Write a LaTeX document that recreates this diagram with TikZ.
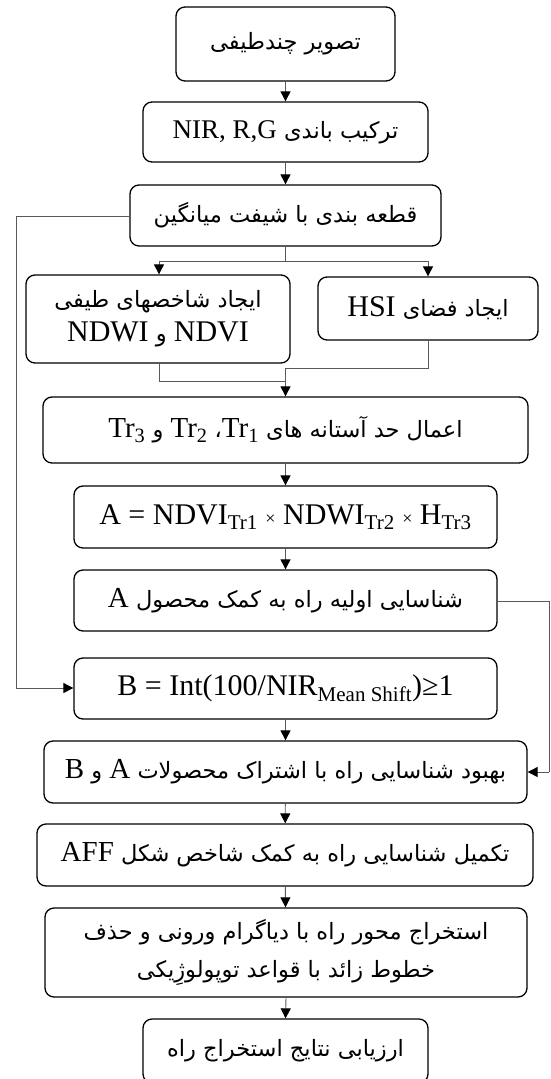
\documentclass[tikz,border=0pt]{standalone}
\usepackage{fontspec}
\setmainfont{Liberation Serif}
\newfontfamily\arfont[Script=Arabic]{DejaVu Sans}
\TeXXeTstate=1
\usetikzlibrary{arrows.meta}
\newcommand\pers[1]{{\arfont\fontsize{22.5}{28}\selectfont #1}}
\newcommand\lat[1]{\beginL #1\endL}
\newcommand\tms{{\fontsize{18}{18}\selectfont ×}}
\tikzset{
  box/.style={draw=black, line width=1.3pt, rounded corners=9pt, fill=white,
    inner sep=0pt, align=center, font=\fontsize{29}{36}\selectfont},
  conn/.style={draw=black!65, line width=0.9pt},
  arr/.style={conn, -{Triangle[length=10pt,width=10pt,fill=black,color=black]}}
}
\begin{document}
\begin{tikzpicture}[x=1pt,y=-1pt]
\useasboundingbox (0,0) rectangle (551,1079);
\node[box, minimum width=219pt, minimum height=74pt] (b1) at (285.5,44)
  {\beginR\pers{تصویر چندطیفی}\endR};
\node[box, minimum width=285pt, minimum height=60pt, font=\fontsize{27}{33}\selectfont] (b2) at (285.5,132)
  {\beginR\pers{ترکیب باندی }\lat{NIR, R,G}\endR};
\node[box, minimum width=311pt, minimum height=61pt] (b3) at (285.5,215.5)
  {\beginR\pers{قطعه بندی با شیفت میانگین}\endR};
\node[box, minimum width=264pt, minimum height=88pt, font=\fontsize{30}{36}\selectfont] (b4) at (158,319)
  {\beginR\pers{ایجاد شاخصهای طیفی}\endR\\[-2pt]
   \beginR\lat{NDVI}\pers{ و }\lat{NDWI}\endR};
\node[box, minimum width=220pt, minimum height=63pt, font=\fontsize{30}{36}\selectfont] (b5) at (428,308.5)
  {\beginR\pers{ایجاد فضای }\lat{HSI}\endR};
\node[box, minimum width=485pt, minimum height=66pt] (b6) at (285.5,430)
  {\beginR\pers{اعمال حد آستانه های }\lat{Tr\textsubscript{1}}\pers{، }\lat{Tr\textsubscript{2}}\pers{ و }\lat{Tr\textsubscript{3}}\endR};
\node[box, minimum width=423pt, minimum height=62pt, font=\fontsize{30}{36}\selectfont] (b7) at (285.5,517)
  {A = NDVI\textsubscript{Tr1} \tms{} NDWI\textsubscript{Tr2} \tms{} H\textsubscript{Tr3}};
\node[box, minimum width=423pt, minimum height=61pt] (b8) at (285.5,600.5)
  {\beginR\pers{شناسایی اولیه راه به کمک محصول }\lat{A}\endR};
\node[box, minimum width=423pt, minimum height=61pt, font=\fontsize{30}{36}\selectfont] (b9) at (285.5,688.5)
  {B = Int(100/NIR\textsubscript{Mean Shift})≥1};
\node[box, minimum width=483pt, minimum height=62pt] (b10) at (285.5,772)
  {\beginR\pers{بهبود شناسایی راه با اشتراک محصولات }\lat{A}\pers{ و }\lat{B}\endR};
\node[box, minimum width=496pt, minimum height=62pt] (b11) at (285,855)
  {\beginR\pers{تکمیل شناسایی راه به کمک شاخص شکل }\lat{AFF}\endR};
\node[box, minimum width=482pt, minimum height=89pt] (b12) at (286,952.5)
  {\beginR\pers{استخراج محور راه با دیاگرام ورونی و حذف}\endR\\[2pt]
   \beginR\pers{خطوط زائد با قواعد توپولوژِیکی}\endR};
\node[box, minimum width=285pt, minimum height=64pt] (b13) at (285.5,1051)
  {\beginR\pers{ارزیابی نتایج استخراج راه}\endR};
% split and merge points
\coordinate (s0) at (285.5,261);
\coordinate (sl) at (159,261);
\coordinate (sr) at (428,261);
\coordinate (ml) at (285.5,381);
\coordinate (mr) at (285.5,368);
\coordinate (fl) at (16,216);
\coordinate (fl2) at (16,688);
\coordinate (fr) at (549,601);
\coordinate (fr2) at (549,772);
% connectors
\draw[arr] (b1) -- (b2);
\draw[arr] (b2) -- (b3);
\draw[conn] (b3.south) -- (s0);
\draw[conn] (sl) -- (sr);
\draw[arr] (sl) -- (sl |- b4.north);
\draw[arr] (sr) -- (sr |- b5.north);
\draw[conn] (b4.south -| sl) |- (ml);
\draw[conn] (b5.south) |- (mr);
\draw[arr] (mr) -- (b6.north);
\draw[arr] (b6) -- (b7);
\draw[arr] (b7) -- (b8);
\draw[arr] (b9) -- (b10);
\draw[arr] (b10) -- (b11);
\draw[arr] (b11) -- (b12);
\draw[arr] (b12.south) -- (b13.north);
\draw[conn] (b3.west |- fl) -- (fl) -- (fl2);
\draw[arr] (fl2) -- (b9.west |- fl2);
\draw[conn] (b8.east |- fr) -- (fr) -- (fr2);
\draw[arr] (fr2) -- (b10.east |- fr2);
\end{tikzpicture}
\end{document}
